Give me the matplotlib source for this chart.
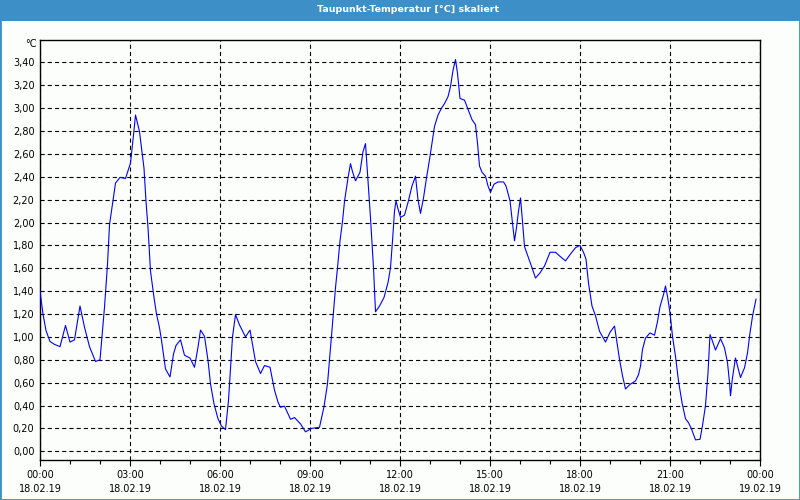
import matplotlib
matplotlib.use('Agg')
import matplotlib.pyplot as plt
from matplotlib.patches import Rectangle
from matplotlib.ticker import MultipleLocator

# time of each reading, minutes after 18.02.19 00:00
minutes = [0, 6, 12, 20, 29, 40, 51, 60, 69, 80, 89, 99, 111, 120, 129, 135, 139, 144,
           151, 160, 171, 181, 187, 191, 199, 208, 212, 216, 221, 228, 233, 239, 243,
           251, 260, 267, 272, 281, 289, 300, 309, 316, 321, 329, 336, 341, 348, 356,
           363, 371, 377, 385, 391, 399, 411, 420, 431, 441, 449, 460, 469, 476, 481,
           489, 501, 509, 521, 531, 543, 559, 568, 575, 580, 586, 591, 595, 600, 605,
           609, 616, 621, 625, 631, 640, 646, 651, 656, 661, 667, 671, 679, 688, 696,
           701, 705, 709, 712, 716, 721, 729, 736, 744, 751, 756, 761, 767, 773, 779,
           784, 789, 796, 803, 809, 816, 821, 826, 831, 835, 840, 849, 856, 864, 871,
           875, 879, 884, 891, 896, 901, 908, 916, 927, 932, 940, 945, 949, 953, 957,
           961, 965, 969, 976, 984, 991, 1000, 1009, 1020, 1031, 1040, 1051, 1061,
           1071, 1080, 1087, 1092, 1097, 1104, 1111, 1119, 1131, 1140, 1149, 1153,
           1159, 1165, 1171, 1180, 1191, 1197, 1201, 1205, 1211, 1220, 1229, 1235,
           1240, 1247, 1251, 1255, 1260, 1265, 1271, 1277, 1284, 1291, 1297, 1303,
           1311, 1320, 1325, 1331, 1336, 1340, 1344, 1351, 1356, 1361, 1369, 1375,
           1379, 1381, 1385, 1391, 1396, 1401, 1409, 1415, 1420, 1425, 1432]

dew_point = [1.40, 1.20, 1.055, 0.96, 0.935, 0.915, 1.10, 0.955, 0.975, 1.27, 1.085, 0.915,
             0.785, 0.80, 1.26, 1.635, 1.98, 2.13, 2.345, 2.395, 2.385, 2.52, 2.765, 2.94,
             2.795, 2.475, 2.185, 1.955, 1.575, 1.345, 1.20, 1.08, 0.97, 0.72, 0.65, 0.85,
             0.925, 0.975, 0.84, 0.815, 0.735, 0.91, 1.06, 1.005, 0.795, 0.59, 0.415,
             0.285, 0.22, 0.19, 0.445, 1.00, 1.195, 1.105, 1.00, 1.06, 0.785, 0.68, 0.75,
             0.735, 0.535, 0.43, 0.385, 0.395, 0.28, 0.295, 0.24, 0.17, 0.20, 0.21, 0.39,
             0.59, 0.85, 1.17, 1.43, 1.605, 1.84, 2.01, 2.185, 2.39, 2.515, 2.445, 2.365,
             2.44, 2.62, 2.69, 2.36, 2.04, 1.605, 1.22, 1.27, 1.345, 1.475, 1.605, 1.84,
             2.10, 2.19, 2.12, 2.045, 2.065, 2.175, 2.32, 2.405, 2.20, 2.08, 2.215, 2.39,
             2.55, 2.695, 2.84, 2.94, 3.00, 3.04, 3.10, 3.19, 3.33, 3.425, 3.305, 3.085,
             3.07, 2.99, 2.90, 2.855, 2.695, 2.495, 2.44, 2.405, 2.32, 2.265, 2.335,
             2.355, 2.355, 2.32, 2.19, 2.00, 1.84, 1.955, 2.10, 2.215, 2.01, 1.79, 1.705,
             1.605, 1.515, 1.56, 1.62, 1.74, 1.74, 1.705, 1.665, 1.725, 1.78, 1.80, 1.74,
             1.68, 1.47, 1.27, 1.185, 1.05, 0.955, 1.04, 1.095, 0.98, 0.805, 0.66, 0.545,
             0.585, 0.615, 0.67, 0.745, 0.89, 0.99, 1.035, 1.015, 1.135, 1.265, 1.37,
             1.445, 1.355, 1.21, 1.005, 0.83, 0.615, 0.425, 0.285, 0.25, 0.195, 0.10,
             0.105, 0.225, 0.40, 0.685, 1.02, 0.975, 0.885, 0.935, 0.985, 0.905, 0.775,
             0.605, 0.485, 0.645, 0.815, 0.73, 0.645, 0.73, 0.86, 1.035, 1.18, 1.33]

tick_minutes = [0, 180, 360, 540, 720, 900, 1080, 1260, 1440]
tick_times = ['00:00', '03:00', '06:00', '09:00', '12:00', '15:00', '18:00', '21:00', '00:00']
tick_dates = ['18.02.19'] * 8 + ['19.02.19']
y_ticks = [0.0, 0.2, 0.4, 0.6, 0.8, 1.0, 1.2, 1.4, 1.6, 1.8, 2.0, 2.2, 2.4, 2.6, 2.8,
           3.0, 3.2, 3.4]
y_tick_labels = ['0,00', '0,20', '0,40', '0,60', '0,80', '1,00', '1,20', '1,40', '1,60',
                 '1,80', '2,00', '2,20', '2,40', '2,60', '2,80', '3,00', '3,20', '3,40']
title = 'Taupunkt-Temperatur [°C] skaliert'
unit = '°C'

plt.rcParams['font.family'] = ['DejaVu Sans']
plt.rcParams['lines.scale_dashes'] = False

BG = '#fcfefc'
BLUE_BAR = '#3d8fc7'

fig = plt.figure(figsize=(8, 5), dpi=100, facecolor=BG)
ax = fig.add_axes([40 / 800, 40 / 500, 720 / 800, 420 / 500])
ax.set_facecolor(BG)

ax.plot(minutes, dew_point, color='#0000ff', lw=0.8, zorder=3)

ax.set_xlim(0, 1440)
ax.set_ylim(-0.076, 3.596)

ax.set_yticks(y_ticks)
ax.set_yticklabels(y_tick_labels, fontsize=7)
ax.set_xticks(tick_minutes)
ax.set_xticklabels([f'{t}\n{d}' for t, d in zip(tick_times, tick_dates)],
                   fontsize=7, linespacing=1.45)
ax.xaxis.set_minor_locator(MultipleLocator(60))

ax.grid(True, which='major', color='black', linestyle=(0, (3, 2.2)), lw=0.8)
ax.tick_params(axis='x', which='major', length=4, width=0.8, pad=3.5)
ax.tick_params(axis='x', which='minor', length=3, width=0.8)
ax.tick_params(axis='y', which='both', length=0, pad=4)
for s in ax.spines.values():
    s.set_color('black')
    s.set_linewidth(1.0)

fig.text(37 / 800, 1 - 44 / 500, unit, ha='right', va='center', fontsize=7)

fig.add_artist(Rectangle((0, 1 - 21 / 500), 1, 21 / 500, transform=fig.transFigure,
                         facecolor=BLUE_BAR, edgecolor='none', zorder=5))
fig.text(408 / 800, 1 - 10 / 500, title, color='white', ha='center', va='center',
         fontsize=6.8, fontweight='bold', zorder=6)
fig.add_artist(Rectangle((0, 0), 1, 1, transform=fig.transFigure, fill=False,
                         edgecolor=BLUE_BAR, lw=2, zorder=6))

fig.savefig('out.png', dpi=100, facecolor=BG)
